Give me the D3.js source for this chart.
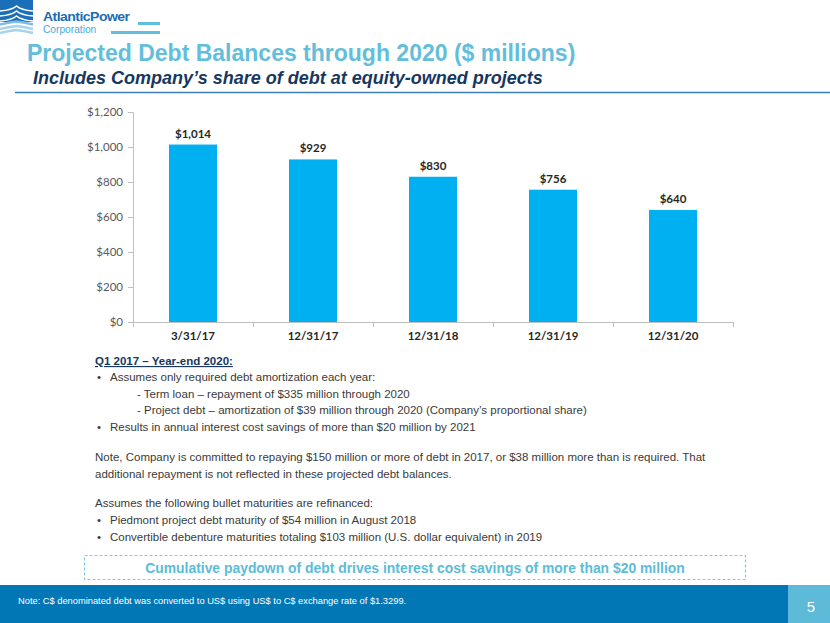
<!DOCTYPE html>
<html><head><meta charset="utf-8">
<script src="https://cdn.jsdelivr.net/npm/d3@7"></script>
<style>
html,body{margin:0;padding:0;background:#fff;}
svg{display:block;}
</style></head>
<body>
<svg id="c" width="830" height="623"></svg>
<script>
const categories = ["3/31/17","12/31/17","12/31/18","12/31/19","12/31/20"];
const debtValues = [1014, 929, 830, 756, 640];
const yTicks = [0, 200, 400, 600, 800, 1000, 1200];
const titleText = "Projected Debt Balances through 2020 ($ millions)";
const subtitleText = "Includes Company\u2019s share of debt at equity-owned projects";
const bodyHeading = "Q1 2017 \u2013 Year-end 2020:";
const bodyLines1 = [
  {t:"Assumes only required debt amortization each year:", kind:"bullet"},
  {t:"- Term loan \u2013 repayment of $335 million through 2020", kind:"dash"},
  {t:"- Project debt \u2013 amortization of $39 million through 2020 (Company\u2019s proportional share)", kind:"dash"},
  {t:"Results in annual interest cost savings of more than $20 million by 2021", kind:"bullet"}
];
const noteLines = [
  "Note, Company is committed to repaying $150 million or more of debt in 2017, or $38 million more than is required.  That",
  "additional repayment is not reflected in these projected debt balances."
];
const refiHeading = "Assumes the following bullet maturities are refinanced:";
const refiLines = [
  "Piedmont project debt maturity of $54 million in August 2018",
  "Convertible debenture maturities totaling $103 million (U.S. dollar equivalent) in 2019"
];
const calloutText = "Cumulative paydown of debt drives interest cost savings of more than $20 million";
const footerNote = "Note: C$ denominated debt was converted to US$ using US$ to C$ exchange rate of $1.3299.";
const pageNumber = "5";

const svg = d3.select("#c");

// ---------- Logo ----------
const logo = svg.append("g");
logo.append("rect").attr("x",0).attr("y",0).attr("width",33).attr("height",22).attr("fill","#1a6fb8");
[24.5,29,33].forEach((y,i)=>{
  logo.append("path")
    .attr("d",`M0,${y} Q8,${y-2} 16.5,${y-3} Q25,${y-2} 33,${y}`)
    .attr("stroke", i===0?"#7fbde6":"#a6d3ef").attr("stroke-width",2.4).attr("fill","none");
});
[6,11,16].forEach((yv)=>{
  logo.append("path")
    .attr("d",`M0,${yv+5} Q12,${yv+4} 16.5,${yv} Q21,${yv+4} 33,${yv+5}`)
    .attr("stroke","#fff").attr("stroke-width",1.5).attr("fill","none");
});
logo.append("text").attr("x",0).attr("y",0).text("AtlanticPower")
  .attr("transform","translate(43,20.5) scale(1.08,1)")
  .attr("font-family","Liberation Sans, Arial, sans-serif").attr("font-weight","bold")
  .attr("font-size",13).attr("fill","#1c6db5").attr("letter-spacing",-0.5);
logo.append("text").attr("x",43).attr("y",32.5).text("Corporation")
  .attr("font-family","Liberation Sans, Arial, sans-serif")
  .attr("font-size",10.2).attr("fill","#4aa8e0");
logo.append("line").attr("x1",138).attr("x2",160).attr("y1",23.5).attr("y2",23.5)
  .attr("stroke","#5fbfdd").attr("stroke-width",3);
logo.append("line").attr("x1",111).attr("x2",160).attr("y1",32.5).attr("y2",32.5)
  .attr("stroke","#5fbfdd").attr("stroke-width",3);

// ---------- Title ----------
svg.append("text").attr("x",27).attr("y",61).text(titleText)
  .attr("font-family","Liberation Sans, Arial, sans-serif").attr("font-weight","bold")
  .attr("font-size",23).attr("fill","#63bedb");
svg.append("text").attr("x",33).attr("y",84).text(subtitleText)
  .attr("font-family","Liberation Sans, Arial, sans-serif").attr("font-weight","bold")
  .attr("font-style","italic").attr("font-size",18).attr("fill","#17375e");
svg.append("line").attr("x1",15).attr("x2",830).attr("y1",92.5).attr("y2",92.5)
  .attr("stroke","#3b7fb8").attr("stroke-width",1.3);

// ---------- Chart ----------
const x0 = 133, x1 = 733, yTop = 112, yBot = 322;
const x = d3.scaleBand().domain(categories).range([x0,x1]).paddingInner(0.6).paddingOuter(0.3);
const y = d3.scaleLinear().domain([0,1200]).range([yBot,yTop]);
const chartFont = "Lato, Carlito, 'Open Sans', sans-serif";

const yAxis = svg.append("g").attr("transform",`translate(${x0},0)`)
  .call(d3.axisLeft(y).tickValues(yTicks).tickSize(5).tickPadding(5)
    .tickFormat(d=>"$"+d3.format(",")(d)));
yAxis.select(".domain").attr("stroke","#bfbfbf");
yAxis.selectAll(".tick line").attr("stroke","#bfbfbf");
yAxis.selectAll(".tick text").attr("font-family",chartFont).attr("font-size",11.5).attr("fill","#595959");

const bars = svg.append("g");
bars.selectAll("rect").data(debtValues).join("rect")
  .attr("x",(d,i)=>x(categories[i])).attr("width",x.bandwidth())
  .attr("y",d=>y(d)).attr("height",d=>y(0)-y(d)).attr("fill","#00b0f0");
bars.selectAll("text").data(debtValues).join("text")
  .attr("x",(d,i)=>x(categories[i])+x.bandwidth()/2).attr("y",d=>y(d)-7)
  .attr("text-anchor","middle").text(d=>"$"+d3.format(",")(d))
  .attr("font-family",chartFont).attr("font-weight","bold").attr("font-size",11.5).attr("fill","#262626");

const xg = svg.append("g");
xg.append("line").attr("x1",x0).attr("x2",x1).attr("y1",yBot+0.5).attr("y2",yBot+0.5).attr("stroke","#bfbfbf");
const step = x.step();
d3.range(categories.length+1).forEach(i=>{
  const xx = Math.round(x0 + i*step)+0.5;
  xg.append("line").attr("x1",xx).attr("x2",xx).attr("y1",yBot).attr("y2",yBot+5).attr("stroke","#bfbfbf");
});
xg.selectAll("text.cat").data(categories).join("text").attr("class","cat")
  .attr("x",d=>x(d)+x.bandwidth()/2).attr("y",yBot+18)
  .attr("text-anchor","middle").text(d=>d)
  .attr("font-family",chartFont).attr("font-weight","bold").attr("font-size",11.5).attr("fill","#262626");

// ---------- Body text ----------
const bodyFont = "Liberation Sans, Arial, sans-serif";
const body = svg.append("g").attr("font-family",bodyFont).attr("font-size",11.5).attr("fill","#3a3a3a");
function addText(g, txt, xx, yy, opts={}) {
  const t = g.append("text").attr("x",xx).attr("y",yy).text(txt);
  if (opts.bold) t.attr("font-weight","bold");
  if (opts.underline) t.attr("text-decoration","underline");
  if (opts.fill) t.attr("fill",opts.fill);
  return t;
}
const bodyC = body.append("g");
addText(bodyC, bodyHeading, 95, 365, {bold:true, underline:true, fill:"#17375e"});
let yy = 381;
bodyLines1.forEach(l=>{
  if (l.kind==="bullet") {
    bodyC.append("text").attr("x",97).attr("y",yy).text("\u2022");
    addText(bodyC, l.t, 110, yy);
  } else {
    addText(bodyC, l.t, 137, yy);
  }
  yy += 16.5;
});
let ny = 460.5;
noteLines.forEach(l=>{ addText(bodyC, l, 95, ny); ny += 17; });
addText(bodyC, refiHeading, 95, 507);
let ry = 523.5;
refiLines.forEach(l=>{
  bodyC.append("text").attr("x",97).attr("y",ry).text("\u2022");
  addText(bodyC, l, 110, ry);
  ry += 17;
});

// ---------- Callout ----------
svg.append("rect").attr("x",84.5).attr("y",555.5).attr("width",661).attr("height",24)
  .attr("fill","none").attr("stroke","#7fcbe3").attr("stroke-width",1.2).attr("stroke-dasharray","3,2");
svg.append("text").attr("x",415).attr("y",573).attr("text-anchor","middle").text(calloutText)
  .attr("font-family",bodyFont).attr("font-weight","bold").attr("font-size",13.9).attr("fill","#5bbcd8");

// ---------- Footer ----------
svg.append("rect").attr("x",0).attr("y",585).attr("width",830).attr("height",38).attr("fill","#0277b6");
svg.append("rect").attr("x",788).attr("y",585).attr("width",42).attr("height",38).attr("fill","#5dbbd9");
svg.append("text").attr("x",18).attr("y",604).text(footerNote)
  .attr("font-family",bodyFont).attr("font-size",9.3).attr("fill","#ffffff");
svg.append("text").attr("x",811).attr("y",612).attr("text-anchor","middle").text(pageNumber)
  .attr("font-family",bodyFont).attr("font-size",15).attr("fill","#ffffff");
</script>
</body></html>
